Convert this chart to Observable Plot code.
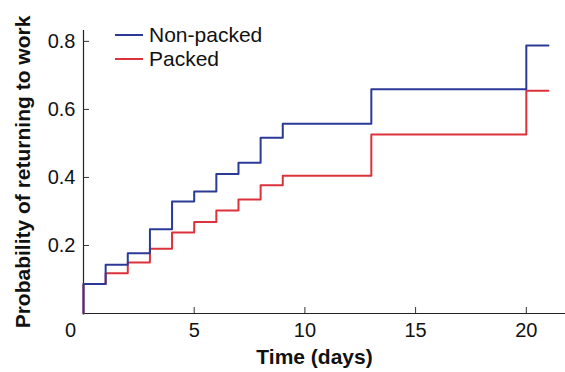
<!DOCTYPE html>
<html>
<head>
<meta charset="utf-8">
<script src="https://cdn.jsdelivr.net/npm/d3@7"></script>
<script src="https://cdn.jsdelivr.net/npm/@observablehq/plot@0.6"></script>
<style>
  html, body { margin: 0; padding: 0; background: #fff; }
  #wrap { position: relative; width: 565px; height: 372px; font-family: "Liberation Sans", Arial, Helvetica, sans-serif; }
  #legend { position: absolute; left: 115px; top: 23px; font-size: 21px; color: #111; }
  #legend .row { display: flex; align-items: center; height: 24px; line-height: 24px; }
  #legend .sw { width: 28px; height: 2px; margin-right: 6px; }
</style>
</head>
<body>
<div id="wrap"></div>
<script>
const seriesNames = ["Non-packed", "Packed"];
const seriesColors = ["#2b3a96", "#dc323c"];
const nonPackedTimes  = [0, 0, 1, 2, 3, 4, 5, 6, 7, 8, 9, 13, 20, 21];
const nonPackedValues = [0, 0.087, 0.143, 0.177, 0.248, 0.329, 0.359, 0.41, 0.443, 0.517, 0.558, 0.659, 0.788, 0.788];
const packedTimes  = [0, 0, 1, 2, 3, 4, 5, 6, 7, 8, 9, 13, 20, 21];
const packedValues = [0, 0.087, 0.118, 0.15, 0.19, 0.238, 0.269, 0.303, 0.335, 0.377, 0.405, 0.526, 0.655, 0.655];
const xTicks = [5, 10, 15, 20];
const xZeroTick = [0];
const yTicks = [0.2, 0.4, 0.6, 0.8];

const nonPacked = nonPackedTimes.map((t, i) => ({t, p: nonPackedValues[i], s: seriesNames[0]}));
const packed = packedTimes.map((t, i) => ({t, p: packedValues[i], s: seriesNames[1]}));

const chart = Plot.plot({
  width: 565,
  height: 372,
  marginLeft: 83,
  marginRight: 0,
  marginTop: 30,
  marginBottom: 59,
  style: {fontFamily: '"Liberation Sans", Arial, Helvetica, sans-serif', fontSize: "20px", color: "#111", background: "#fff"},
  x: {domain: [0, 21.77], label: null},
  y: {domain: [0, 0.832], label: null},
  marks: [
    Plot.ruleX([0], {stroke: "#222", strokeWidth: 1.2}),
    Plot.ruleY([0], {stroke: "#222", strokeWidth: 1.2}),
    Plot.axisX({ticks: xTicks, tickSize: 6, dy: -6, text: null, label: null, stroke: "#333"}),
    Plot.axisX({ticks: xTicks, tickSize: 0, tickPadding: 9, fontSize: 20, label: null, fill: "#111"}),
    Plot.axisX({ticks: xZeroTick, tickSize: 0, tickPadding: 9, dx: -13, fontSize: 20, label: null, fill: "#111"}),
    Plot.axisY({ticks: yTicks, tickSize: 6, dx: 6, text: null, label: null, stroke: "#333"}),
    Plot.axisY({ticks: yTicks, tickSize: 0, tickPadding: 8, fontSize: 20, label: null, fill: "#111", tickFormat: d3.format(".1f")}),
    Plot.line(packed, {x: "t", y: "p", curve: "step-after", stroke: seriesColors[1], strokeWidth: 2}),
    Plot.line(nonPacked, {x: "t", y: "p", curve: "step-after", stroke: seriesColors[0], strokeWidth: 2}),
    Plot.text(["Time (days)"], {frameAnchor: "bottom", dy: 50, dx: -10, fontWeight: "bold", fontSize: 21, fill: "#111"}),
    Plot.text(["Probability of returning to work"], {frameAnchor: "left", textAnchor: "middle", dx: -60, rotate: -90, fontWeight: "bold", fontSize: 21, fill: "#111"})
  ]
});

const wrap = document.getElementById("wrap");
wrap.appendChild(chart);
const legend = document.createElement("div");
legend.id = "legend";
seriesNames.forEach((name, i) => {
  const row = document.createElement("div");
  row.className = "row";
  const sw = document.createElement("div");
  sw.className = "sw";
  sw.style.background = seriesColors[i];
  const label = document.createElement("span");
  label.textContent = name;
  row.appendChild(sw);
  row.appendChild(label);
  legend.appendChild(row);
});
wrap.appendChild(legend);
</script>
</body>
</html>
